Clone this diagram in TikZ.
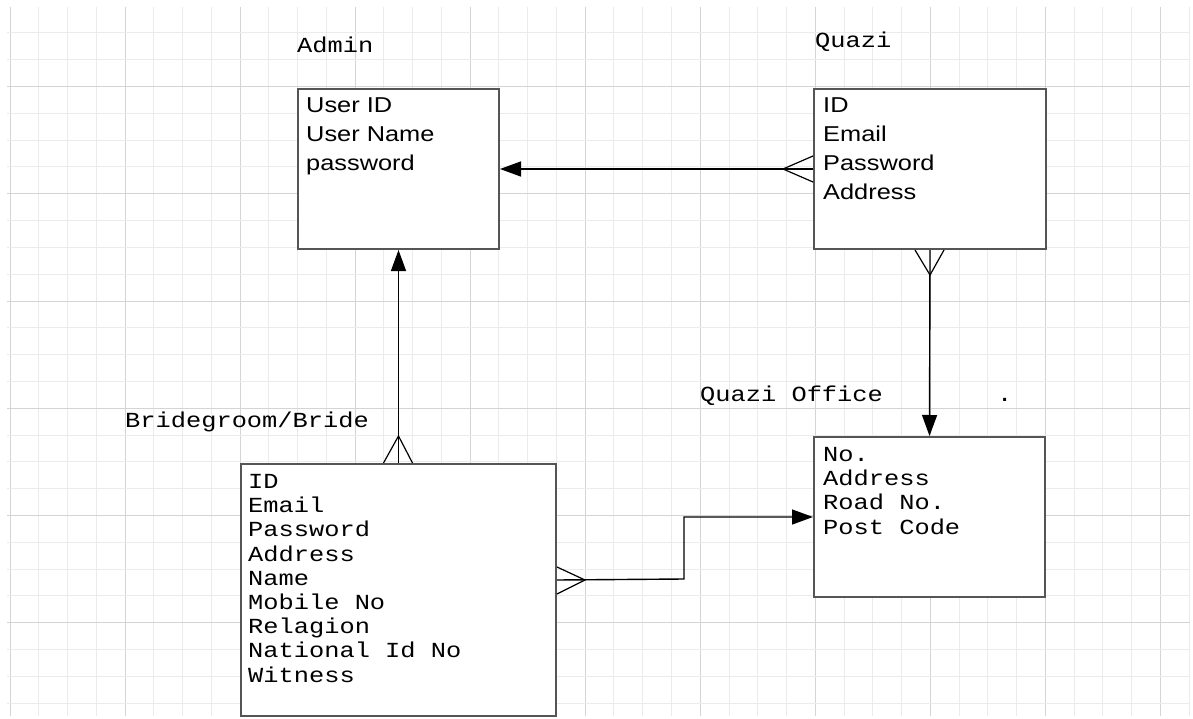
\documentclass[tikz,border=0pt]{standalone}
\usepackage{fontspec}
\usetikzlibrary{arrows.meta,calc}
\newfontfamily\monof[FakeStretch=1.18]{Liberation Mono}
\newfontfamily\sansf[FakeStretch=1.18]{Liberation Sans}
\definecolor{gridminor}{HTML}{EBEBEB}
\definecolor{gridmajor}{HTML}{D4D4D4}
\definecolor{boxline}{HTML}{555555}
\tikzset{
  entity/.style={draw=boxline,line width=2pt,fill=white,inner sep=0pt,anchor=north west},
  title/.style={anchor=base west,inner sep=0pt,font=\monof\fontsize{21.5}{24}\selectfont},
  monotxt/.style={anchor=base west,inner sep=0pt,align=left,font=\monof\fontsize{21.5}{24.2}\selectfont},
  sanstxt/.style={anchor=base west,inner sep=0pt,align=left,font=\sansf\fontsize{21.5}{29}\selectfont},
  conn/.style={draw=black,line width=1.4pt},
  arr/.style={conn,-{Triangle[length=21pt,width=15pt]}},
  crow/.style={draw=black,line width=1.2pt}
}
\begin{document}
\begin{tikzpicture}[x=1pt,y=-1pt]
\useasboundingbox (0,0) rectangle (1193,719);
\fill[white] (0,0) rectangle (1193,719);
% grid
\foreach \k in {0,...,41}{
  \pgfmathsetmacro{\gx}{10+28.76*\k}
  \pgfmathtruncatemacro{\m}{mod(\k,4)}
  \ifnum\m=0 \draw[gridmajor,line width=1pt] (\gx,7) -- (\gx,716);
  \else \draw[gridminor,line width=1pt] (\gx,7) -- (\gx,716); \fi
}
\foreach \k in {0,...,25}{
  \pgfmathsetmacro{\gy}{33+26.8*\k}
  \pgfmathtruncatemacro{\m}{mod(\k+2,4)}
  \ifnum\m=0 \draw[gridmajor,line width=1pt] (7,\gy) -- (1190,\gy);
  \else \draw[gridminor,line width=1pt] (7,\gy) -- (1190,\gy); \fi
}
% entities
\node[entity,minimum width=201pt,minimum height=160pt] (admin) at (297,88) {};
\node[entity,minimum width=232pt,minimum height=160pt] (quazi) at (813,88) {};
\node[entity,minimum width=231pt,minimum height=160pt] (office) at (813,436) {};
\node[entity,minimum width=315pt,minimum height=252pt] (bride) at (240,463) {};
% titles
\node[title] (admint) at (297,53) {Admin};
\node[title] (quazit) at (815,48) {Quazi};
\node[title] (officet) at (700,401) {Quazi Office};
\node[title] (dot) at (997,401) {.};
\node[title] (bridet) at (125,427) {Bridegroom/Bride};
% attributes (anchored at the baseline of the last line)
\node[sanstxt] (admina) at (306,171) {User ID\\User Name\\password};
\node[sanstxt] (quazia) at (823,200) {ID\\Email\\Password\\Address};
\node[monotxt] (officea) at (823,534) {No.\\Address\\Road No.\\Post Code};
\node[monotxt] (bridea) at (248,682) {ID\\Email\\Password\\Address\\Name\\Mobile No\\Relagion\\National Id No\\Witness};
% connectors
\draw[arr] (quazi.west) -- (admin.east);
\draw[crow] ([yshift=13pt]quazi.west) -- ++(-30,13) -- ([yshift=-13pt]quazi.west);
\draw[arr] (quazi.south) -- (office.north);
\draw[crow] ([xshift=-15pt]quazi.south) -- ++(15,25) -- ([xshift=14pt]quazi.south);
\draw[arr] (bride.north) -- (admin.south);
\draw[crow] ([xshift=-15pt]bride.north) -- ++(15,-27) -- ([xshift=14pt]bride.north);
\coordinate (bend) at (684,579);
\draw[arr] ([yshift=10pt]bride.east) -- (bend) |- (office.west);
\draw[crow] ([yshift=23pt]bride.east) -- ++(28,13) -- ([yshift=-4pt]bride.east);
\end{tikzpicture}
\end{document}
